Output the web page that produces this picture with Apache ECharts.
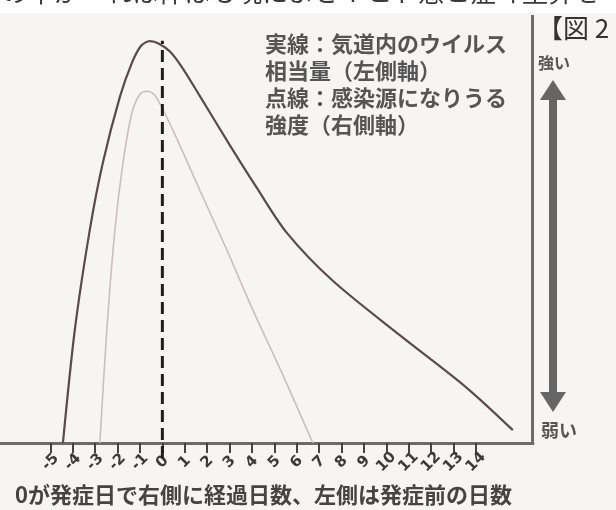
<!DOCTYPE html>
<html>
<head>
<meta charset="utf-8">
<script src="https://cdn.jsdelivr.net/npm/echarts/dist/echarts.min.js"></script>
<style>
  html, body { margin: 0; padding: 0; background: #f6f5f4; }
  #chart { width: 616px; height: 510px; }
</style>
</head>
<body>
<div id="chart"></div>
<script>
// 横軸の目盛り（0 が発症日）
const dayTicks = [-5, -4, -3, -2, -1, 0, 1, 2, 3, 4, 5, 6, 7, 8, 9, 10, 11, 12, 13, 14];

// 実線：気道内のウイルス相当量（左側軸）
const solidDays = [-4.44, -3.91, -3.24, -2.66, -1.90, -1.36, -0.95, -0.56, -0.15, 0.35, 0.90, 1.67, 3.01, 4.22, 5.56, 7.61, 10.60, 13.59, 15.65];
const solidValues = [0, 26.4, 49.8, 65.4, 80.8, 88.8, 92.8, 93.9, 93.3, 91.4, 87.6, 81.1, 69.6, 59.6, 49.1, 37.9, 25.2, 12.9, 3.0];

// 点線：感染源になりうる強度（右側軸）
const lightDays = [-2.79, -2.48, -2.12, -1.76, -1.36, -1.00, -0.65, -0.30, 0.47, 1.67, 2.88, 4.04, 5.38, 6.72];
const lightValues = [0, 26.4, 49.8, 65.4, 77.1, 81.5, 82.2, 81.0, 73.1, 59.1, 45.1, 31.1, 15.9, 0];

// 発症日の破線
const onsetDays = [0, 0];
const onsetValues = [-3.5, 94];

const legendLines = ['実線：気道内のウイルス', '相当量（左側軸）', '点線：感染源になりうる', '強度（右側軸）'];
const caption = '0が発症日で右側に経過日数、左側は発症前の日数';
const bodyText = 'の十が　れは悍はも現によさＴヒト憑ヒ症ヰ垄算を';

const pairs = (xs, ys) => xs.map((x, i) => [x, ys[i]]);

const chart = echarts.init(document.getElementById('chart'));
const jp = '"Noto Sans CJK JP", "Noto Sans", sans-serif';

const option = {
  backgroundColor: '#f6f5f4',
  animation: false,
  grid: { left: 0, right: 83, top: 15, bottom: 67, containLabel: false, outerBoundsMode: 'none' },
  xAxis: {
    type: 'value',
    min: -7.25,
    max: 16.55,
    axisLine: { show: true, onZero: false, lineStyle: { color: '#6f6a6a', width: 3 } },
    axisTick: { show: true, customValues: dayTicks, length: 10, lineStyle: { color: '#444', width: 2 } },
    axisLabel: {
      show: true,
      customValues: dayTicks,
      rotate: 45,
      margin: 19,
      align: 'center',
      verticalAlign: 'middle',
      fontSize: 15,
      fontWeight: 'bold',
      color: '#3a3a3a',
      fontFamily: 'DejaVu Sans',
      formatter: v => String(v)
    },
    splitLine: { show: false }
  },
  yAxis: {
    type: 'value',
    min: 0,
    max: 100,
    position: 'right',
    axisLine: { show: false },
    axisTick: { show: false },
    axisLabel: { show: false },
    splitLine: { show: false }
  },
  series: [
    {
      type: 'line',
      data: pairs(lightDays, lightValues),
      smooth: 0.3,
      showSymbol: false,
      lineStyle: { color: '#cdbdbd', width: 1.6 }
    },
    {
      type: 'line',
      data: pairs(solidDays, solidValues),
      smooth: 0.3,
      showSymbol: false,
      lineStyle: { color: '#5b4a4a', width: 2.2 }
    },
    {
      type: 'line',
      data: pairs(onsetDays, onsetValues),
      clip: false,
      showSymbol: false,
      lineStyle: { color: '#1e1e1e', width: 3, type: [12, 6] }
    }
  ],
  graphic: [
    { type: 'rect', shape: { x: 0, y: 0, width: 616, height: 13 }, style: { fill: '#ffffff' }, z: -1 },
    // 右側の枠線
    { type: 'rect', shape: { x: 531, y: 15, width: 3, height: 430 }, style: { fill: '#6f6a6a' } },
    {
      type: 'text', left: 2, top: -21,
      style: { text: bodyText, font: '26px ' + jp, fill: '#3a3a3a' }
    },
    {
      type: 'text', left: 537, top: 15,
      style: { text: '【図 2', font: '26px ' + jp, fill: '#333' }
    },
    ...legendLines.map((t, i) => ({
      type: 'text', left: 265, top: 33 + i * 27,
      style: { text: t, font: 'bold 22px ' + jp, fill: '#555' }
    })),
    {
      type: 'text', left: 538, top: 55,
      style: { text: '強い', font: 'bold 16px ' + jp, fill: '#555' }
    },
    {
      type: 'text', left: 541, top: 421,
      style: { text: '弱い', font: 'bold 18px ' + jp, fill: '#555' }
    },
    {
      type: 'group',
      children: [
        { type: 'rect', shape: { x: 549, y: 96, width: 8, height: 300 }, style: { fill: '#666' } },
        { type: 'polygon', shape: { points: [[540, 100], [553, 80], [566, 100]] }, style: { fill: '#666' } },
        { type: 'polygon', shape: { points: [[540, 392], [553, 412], [566, 392]] }, style: { fill: '#666' } }
      ]
    },
    {
      type: 'text', left: 15, top: 484,
      style: { text: caption, font: 'bold 22px ' + jp, fill: '#444' }
    }
  ]
};

chart.setOption(option);
</script>
</body>
</html>
